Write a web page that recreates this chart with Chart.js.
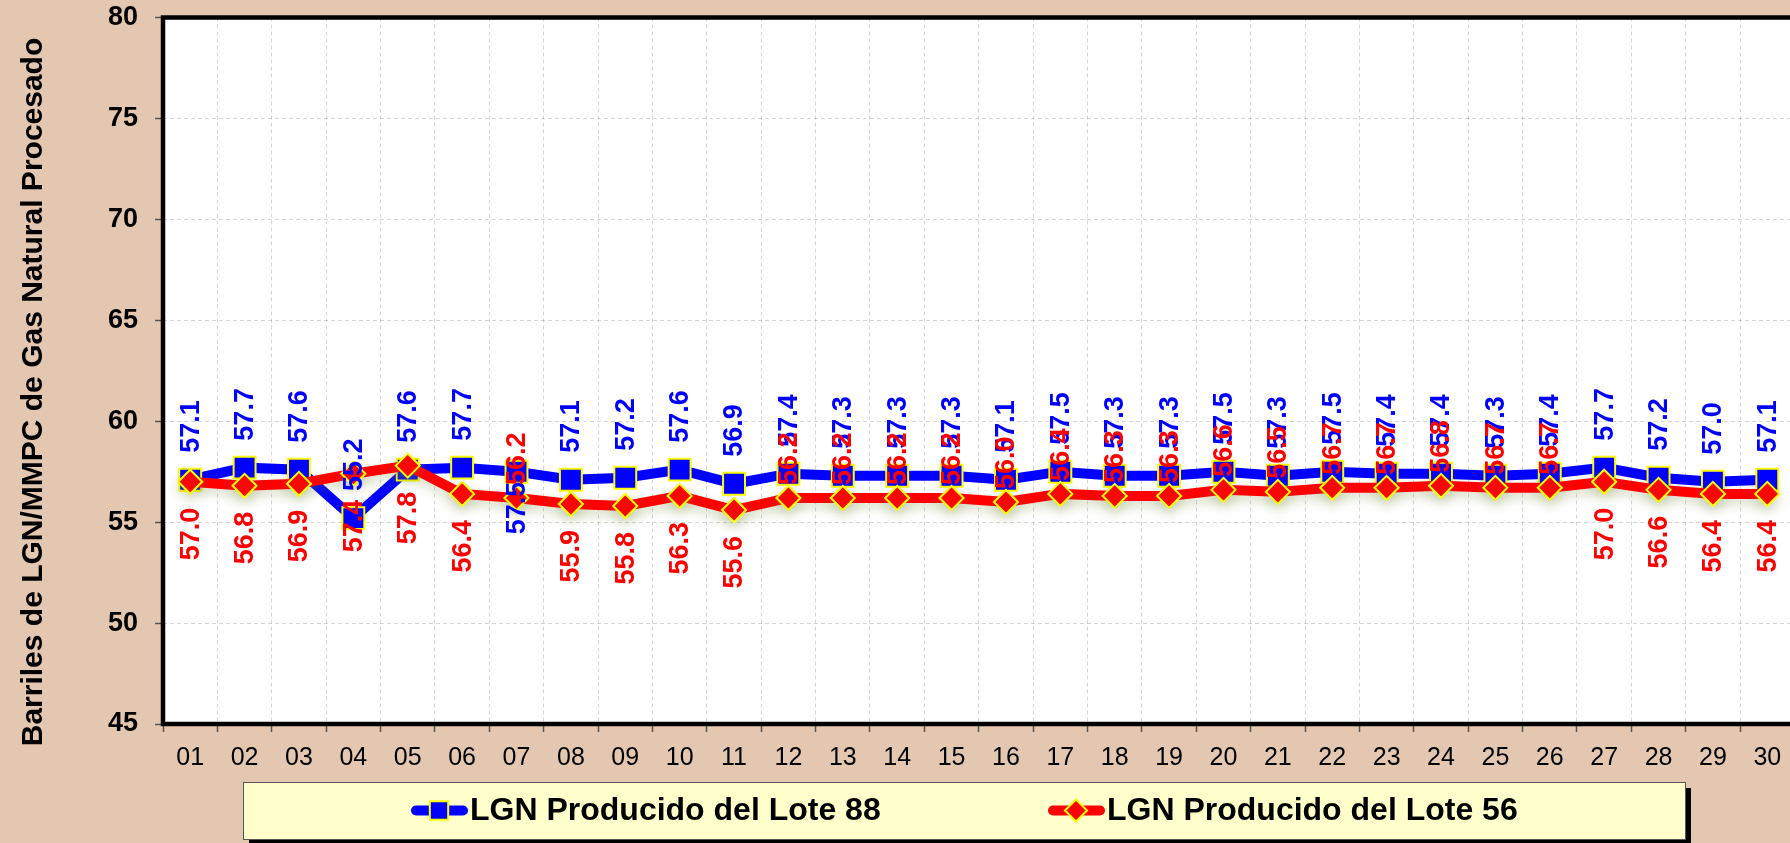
<!DOCTYPE html>
<html>
<head>
<meta charset="utf-8">
<script src="https://cdn.jsdelivr.net/npm/chart.js@4.4.1/dist/chart.umd.min.js"></script>
<style>
  html, body { margin: 0; padding: 0; overflow: hidden; background: #E4C7B0; }
  #wrap { width: 1812px; height: 843px; }
</style>
</head>
<body>
<div id="wrap"><canvas id="lgnChart" width="1812" height="843"></canvas></div>
<script>
// Días del mes
const dias = ['01','02','03','04','05','06','07','08','09','10','11','12','13','14','15',
              '16','17','18','19','20','21','22','23','24','25','26','27','28','29','30'];

// LGN Producido del Lote 88 (Bls/MMPC)
const lote88 = [57.1, 57.7, 57.6, 55.2, 57.6, 57.7, 57.5, 57.1, 57.2, 57.6,
                56.9, 57.4, 57.3, 57.3, 57.3, 57.1, 57.5, 57.3, 57.3, 57.5,
                57.3, 57.5, 57.4, 57.4, 57.3, 57.4, 57.7, 57.2, 57.0, 57.1];

// LGN Producido del Lote 56 (Bls/MMPC)
const lote56 = [57.0, 56.8, 56.9, 57.4, 57.8, 56.4, 56.2, 55.9, 55.8, 56.3,
                55.6, 56.2, 56.2, 56.2, 56.2, 56.0, 56.4, 56.3, 56.3, 56.6,
                56.5, 56.7, 56.7, 56.8, 56.7, 56.7, 57.0, 56.6, 56.4, 56.4];

// Ticks del eje Y
const yMin = 45, yMax = 80, yStep = 5;

// Ubicación de etiquetas (u = arriba, d = abajo)
const pos88 = 'uuuuuuduuuuuuuuuuuuuuuuuuuuuuu'.split('');
const pos56 = 'ddddddudddduuuuuuuuuuuuuuudddd'.split('');

const FONT = '"Liberation Sans", Arial, sans-serif';
const BG = '#E4C7B0';

const series = [
  { label: 'LGN Producido del Lote 88', data: lote88, color: '#0000FF', style: 'rect', pos: pos88, gapUp: 27, gapDown: 10 },
  { label: 'LGN Producido del Lote 56', data: lote56, color: '#FF0000', style: 'rectRot', pos: pos56, gapUp: 13, gapDown: 26 }
];

const framePlugin = {
  id: 'frame',
  beforeDraw(chart) {
    const { ctx, chartArea: a } = chart;
    ctx.save();
    ctx.fillStyle = BG;
    ctx.fillRect(0, 0, chart.width, chart.height);
    ctx.fillStyle = '#FFFFFF';
    ctx.fillRect(a.left, a.top, a.right - a.left, a.bottom - a.top);
    ctx.restore();
  },
  beforeDatasetsDraw(chart) {
    const { ctx, chartArea: a } = chart;
    ctx.save();
    ctx.strokeStyle = '#000';
    ctx.lineWidth = 4.5;
    ctx.strokeRect(a.left, a.top, a.right - a.left, a.bottom - a.top);
    ctx.restore();
  },
  beforeDatasetDraw(chart, args) {
    if (args.index === 1) {
      const ctx = chart.ctx;
      ctx.save();
      ctx.shadowColor = 'rgba(120,140,60,0.30)';
      ctx.shadowBlur = 12;
      ctx.shadowOffsetY = 5;
    }
  },
  afterDatasetDraw(chart, args) {
    if (args.index === 1) chart.ctx.restore();
  },
  afterDatasetsDraw(chart) {
    const ctx = chart.ctx;
    ctx.save();
    ctx.font = 'bold 27px ' + FONT;
    ctx.textBaseline = 'middle';
    series.forEach((s, i) => {
      const meta = chart.getDatasetMeta(i);
      ctx.fillStyle = s.color;
      meta.data.forEach((pt, j) => {
        const up = s.pos[j] === 'u';
        ctx.save();
        ctx.translate(pt.x, up ? pt.y - s.gapUp : pt.y + s.gapDown);
        ctx.rotate(-Math.PI / 2);
        ctx.textAlign = up ? 'left' : 'right';
        ctx.fillText(s.data[j].toFixed(1), 0, 1);
        ctx.restore();
      });
    });
    ctx.restore();
  },
  afterDraw(chart) {
    const { ctx, chartArea: a } = chart;
    ctx.save();
    // título del eje Y
    ctx.fillStyle = '#000';
    ctx.font = 'bold 30px ' + FONT;
    ctx.textAlign = 'center';
    ctx.textBaseline = 'middle';
    ctx.translate(34, 392);
    ctx.rotate(-Math.PI / 2);
    ctx.fillText('Barriles de LGN/MMPC de Gas Natural Procesado', 0, 0);
    ctx.restore();

    // leyenda
    const bx = 243, by = a.bottom + 58, bw = 1442, bh = 57;
    ctx.save();
    ctx.fillStyle = '#000';
    ctx.fillRect(bx + 6, by + 6, bw, bh);
    ctx.fillStyle = '#FFFFCC';
    ctx.fillRect(bx, by, bw, bh);
    ctx.strokeStyle = '#555';
    ctx.lineWidth = 1;
    ctx.strokeRect(bx + 0.5, by + 0.5, bw, bh);
    const cy = by + bh / 2;
    const items = [411, 1048];
    series.forEach((s, i) => {
      const x0 = items[i];
      ctx.strokeStyle = s.color;
      ctx.lineWidth = 10;
      ctx.lineCap = 'round';
      ctx.beginPath();
      ctx.moveTo(x0 + 5, cy);
      ctx.lineTo(x0 + 52, cy);
      ctx.stroke();
      ctx.fillStyle = s.color;
      ctx.strokeStyle = '#FFFF00';
      ctx.lineWidth = 2;
      Chart.helpers.drawPoint(ctx, { pointStyle: s.style, radius: i === 0 ? 13 : 11, borderWidth: 2 }, x0 + 28, cy);
      ctx.fillStyle = '#000';
      ctx.font = 'bold 32px ' + FONT;
      ctx.textAlign = 'left';
      ctx.textBaseline = 'middle';
      ctx.fillText(s.label, x0 + 59, cy + 1);
    });
    ctx.restore();
  }
};

new Chart(document.getElementById('lgnChart'), {
  type: 'line',
  data: {
    labels: dias,
    datasets: series.map((s, i) => ({
      label: s.label,
      data: s.data,
      borderColor: s.color,
      backgroundColor: s.color,
      borderWidth: 10,
      tension: 0,
      pointStyle: s.style,
      pointRadius: i === 0 ? 15.5 : 12,
      pointHoverRadius: i === 0 ? 15.5 : 12,
      pointBackgroundColor: s.color,
      pointBorderColor: '#FFFF00',
      pointBorderWidth: 2,
      order: i === 0 ? 2 : 1
    }))
  },
  options: {
    responsive: false,
    animation: false,
    layout: { padding: { top: 17, right: 5, left: 0, bottom: 0 } },
    plugins: {
      legend: { display: false },
      tooltip: { enabled: false }
    },
    scales: {
      x: {
        offset: true,
        afterFit: (s) => { s.height = 119; s.paddingLeft = 0; s.paddingRight = 0; },
        grid: {
          offset: true,
          color: 'rgba(0,0,0,0.16)',
          tickColor: '#555',
          tickLength: 8,
          tickWidth: 1.5
        },
        border: { display: false, dash: [4, 3] },
        ticks: {
          color: '#000',
          font: { family: FONT, size: 25 },
          padding: 11,
          maxRotation: 0,
          autoSkip: false
        }
      },
      y: {
        min: yMin,
        max: yMax,
        afterFit: (s) => { s.width = 163; s.paddingTop = 0; s.paddingBottom = 0; },
        grid: {
          color: 'rgba(0,0,0,0.16)',
          tickColor: '#555',
          tickLength: 8,
          tickWidth: 1.5
        },
        border: { display: false, dash: [4, 3] },
        ticks: {
          stepSize: yStep,
          color: '#000',
          font: { family: FONT, size: 27, weight: 'bold' },
          padding: 17
        }
      }
    }
  },
  plugins: [framePlugin]
});
</script>
</body>
</html>
